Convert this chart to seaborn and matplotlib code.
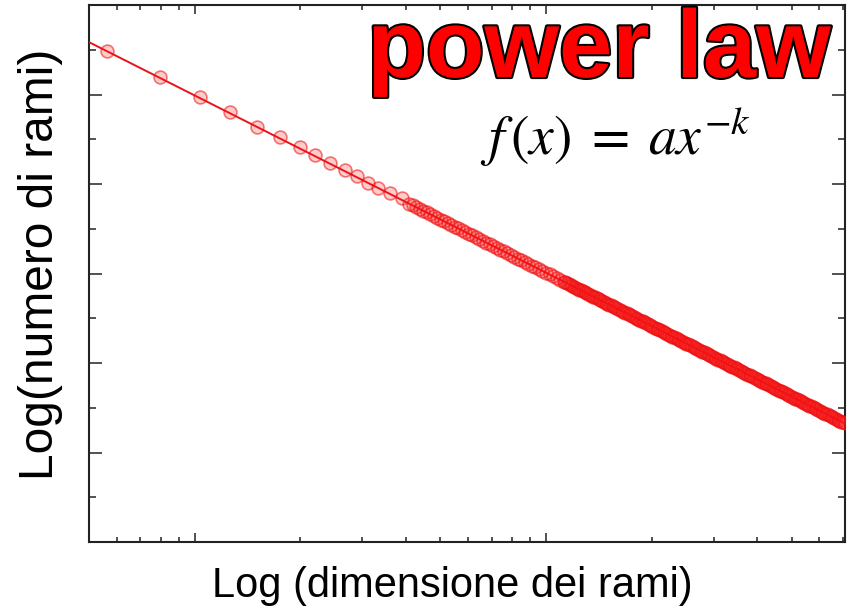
import numpy as np
import pandas as pd
import matplotlib
matplotlib.use("Agg")
import matplotlib.pyplot as plt
import matplotlib.patheffects as pe
from matplotlib.ticker import FixedLocator, NullFormatter
import seaborn as sns

# log10 of branch size and log10 of branch count, one entry per measured bin
log_dimensione = [
    0.749, 0.900, 1.014, 1.100, 1.177, 1.242, 1.299, 1.342, 1.385, 1.427,
    1.462, 1.493, 1.521, 1.556, 1.590,
    1.61, 1.62, 1.63, 1.64, 1.65, 1.66, 1.67, 1.68, 1.69, 1.70,
    1.71, 1.72, 1.73, 1.74, 1.75, 1.76, 1.77, 1.78, 1.79, 1.80,
    1.81, 1.82, 1.83, 1.84, 1.85, 1.86, 1.87, 1.88, 1.89, 1.90,
    1.91, 1.92, 1.93, 1.94, 1.95, 1.96, 1.97, 1.98, 1.99, 2.00,
    2.01, 2.02, 2.03, 2.04, 2.05,
    2.055, 2.060, 2.065, 2.070, 2.075, 2.080, 2.085, 2.090, 2.095, 2.100,
    2.105, 2.110, 2.115, 2.120, 2.125, 2.130, 2.135, 2.140, 2.145, 2.150,
    2.155, 2.160, 2.165, 2.170, 2.175, 2.180, 2.185, 2.190, 2.195, 2.200,
    2.205, 2.210, 2.215, 2.220, 2.225, 2.230, 2.235, 2.240, 2.245, 2.250,
    2.255, 2.260, 2.265, 2.270, 2.275, 2.280, 2.285, 2.290, 2.295, 2.300,
    2.305, 2.310, 2.315, 2.320, 2.325, 2.330, 2.335, 2.340, 2.345, 2.350,
    2.355, 2.360, 2.365, 2.370, 2.375, 2.380, 2.385, 2.390, 2.395, 2.400,
    2.405, 2.410, 2.415, 2.420, 2.425, 2.430, 2.435, 2.440, 2.445, 2.450,
    2.455, 2.460, 2.465, 2.470, 2.475, 2.480, 2.485, 2.490, 2.495, 2.500,
    2.505, 2.510, 2.515, 2.520, 2.525, 2.530, 2.535, 2.540, 2.545, 2.550,
    2.555, 2.560, 2.565, 2.570, 2.575, 2.580, 2.585, 2.590, 2.595, 2.600,
    2.605, 2.610, 2.615, 2.620, 2.625, 2.630, 2.635, 2.640, 2.645, 2.650,
    2.655, 2.660, 2.665, 2.670, 2.675, 2.680, 2.685, 2.690, 2.695, 2.700,
    2.705, 2.710, 2.715, 2.720, 2.725, 2.730, 2.735, 2.740, 2.745, 2.750,
    2.755, 2.760, 2.765, 2.770, 2.775, 2.780, 2.785, 2.790, 2.795, 2.800,
    2.805, 2.810, 2.815, 2.820, 2.825, 2.830, 2.835, 2.840, 2.845, 2.850,
]
log_numero = [
    5.486, 5.196, 4.972, 4.804, 4.637, 4.525, 4.413, 4.324, 4.235, 4.156,
    4.089, 4.011, 3.955, 3.899, 3.844,
    3.781, 3.761, 3.741, 3.722, 3.702, 3.682, 3.662, 3.642, 3.623, 3.603,
    3.583, 3.563, 3.543, 3.524, 3.504, 3.484, 3.464, 3.444, 3.425, 3.405,
    3.385, 3.365, 3.345, 3.326, 3.306, 3.286, 3.266, 3.246, 3.227, 3.207,
    3.187, 3.167, 3.147, 3.128, 3.108, 3.088, 3.068, 3.048, 3.029, 3.009,
    2.989, 2.969, 2.949, 2.930, 2.910,
    2.900, 2.890, 2.880, 2.870, 2.860, 2.851, 2.841, 2.831, 2.821, 2.811,
    2.801, 2.791, 2.781, 2.771, 2.761, 2.752, 2.742, 2.732, 2.722, 2.712,
    2.702, 2.692, 2.682, 2.672, 2.662, 2.653, 2.643, 2.633, 2.623, 2.613,
    2.603, 2.593, 2.583, 2.573, 2.563, 2.554, 2.544, 2.534, 2.524, 2.514,
    2.504, 2.494, 2.484, 2.474, 2.464, 2.455, 2.445, 2.435, 2.425, 2.415,
    2.405, 2.395, 2.385, 2.375, 2.365, 2.356, 2.346, 2.336, 2.326, 2.316,
    2.306, 2.296, 2.286, 2.276, 2.266, 2.257, 2.247, 2.237, 2.227, 2.217,
    2.207, 2.197, 2.187, 2.177, 2.167, 2.158, 2.148, 2.138, 2.128, 2.118,
    2.108, 2.098, 2.088, 2.078, 2.068, 2.059, 2.049, 2.039, 2.029, 2.019,
    2.009, 1.999, 1.989, 1.979, 1.969, 1.960, 1.950, 1.940, 1.930, 1.920,
    1.910, 1.900, 1.890, 1.880, 1.870, 1.861, 1.851, 1.841, 1.831, 1.821,
    1.811, 1.801, 1.791, 1.781, 1.771, 1.762, 1.752, 1.742, 1.732, 1.722,
    1.712, 1.702, 1.692, 1.682, 1.672, 1.663, 1.653, 1.643, 1.633, 1.623,
    1.613, 1.603, 1.593, 1.583, 1.573, 1.564, 1.554, 1.544, 1.534, 1.524,
    1.514, 1.504, 1.494, 1.484, 1.474, 1.465, 1.455, 1.445, 1.435, 1.425,
    1.415, 1.405, 1.395, 1.385, 1.375, 1.366, 1.356, 1.346, 1.336, 1.326,
]

# fitted power law f(x) = a * x^-k
fit_log_a = 6.969
fit_k = 1.98

x_limits = (5.0, 710.0)
y_limits = (1.0, 1e6)
x_major = [10, 100]
x_minor = [6, 7, 8, 9, 20, 30, 40, 50, 60, 70, 80, 90, 200, 300, 400, 500, 600, 700]
y_major = [1e1, 1e2, 1e3, 1e4, 1e5]
y_minor = [10 ** 0.5, 10 ** 1.5, 10 ** 2.5, 10 ** 3.5, 10 ** 4.5, 10 ** 5.5]

sns.set_theme(style="ticks")
plt.rcParams["font.family"] = ["Liberation Sans", "DejaVu Sans"]
plt.rcParams["mathtext.fontset"] = "stix"

W, H = 852, 609
fig = plt.figure(figsize=(W / 100, H / 100), dpi=100)
ax = fig.add_axes([89 / W, 67 / H, 756 / W, 537 / H])
ax.set_xscale("log")
ax.set_yscale("log")

df = pd.DataFrame({
    "dimensione": 10 ** np.array(log_dimensione),
    "numero": 10 ** np.array(log_numero),
})

# fitted line across the size range
fit_x = np.geomspace(x_limits[0], df["dimensione"].max(), 60)
fit_df = pd.DataFrame({"dimensione": fit_x, "numero": 10 ** fit_log_a * fit_x ** (-fit_k)})
sns.lineplot(data=fit_df, x="dimensione", y="numero", ax=ax, color="#e8141a",
             linewidth=1.4, zorder=3)

sns.scatterplot(data=df, x="dimensione", y="numero", ax=ax, marker="o", s=85,
                color="red", linewidth=1.2, zorder=4)
pts = ax.collections[-1]
pts.set_facecolor((1.0, 0.1, 0.1, 0.22))
pts.set_edgecolor((0.93, 0.05, 0.05, 0.55))

ax.set_xlim(*x_limits)
ax.set_ylim(*y_limits)
ax.set_xlabel("")
ax.set_ylabel("")

ax.xaxis.set_major_locator(FixedLocator(x_major))
ax.xaxis.set_minor_locator(FixedLocator(x_minor))
ax.yaxis.set_major_locator(FixedLocator(y_major))
ax.yaxis.set_minor_locator(FixedLocator(y_minor))
for axis in (ax.xaxis, ax.yaxis):
    axis.set_major_formatter(NullFormatter())
    axis.set_minor_formatter(NullFormatter())

tick_col = "#333333"
ax.tick_params(axis="x", which="major", direction="in", length=6.5, width=1.2,
               color=tick_col, top=True, bottom=True)
ax.tick_params(axis="x", which="minor", direction="in", length=3.6, width=1.2,
               color=tick_col, top=True, bottom=True)
ax.tick_params(axis="y", which="major", direction="in", length=9.4, width=1.2,
               color=tick_col, left=True, right=True)
ax.tick_params(axis="y", which="minor", direction="in", length=5.0, width=1.2,
               color=tick_col, left=True, right=True)
for sp in ax.spines.values():
    sp.set_visible(True)
    sp.set_color("#222222")
    sp.set_linewidth(1.5)

# axis titles
fig.text(452 / W, 1 - 597 / H, "Log (dimensione dei rami)", ha="center",
         va="baseline", fontsize=30, color="black")
fig.text(41 / W, 1 - 264 / H, "Log(numero di rami)", ha="center", va="center",
         rotation=90, fontsize=34.5, color="black")

# headline and formula
fig.text(831 / W, 1 - 77 / H, "power law", ha="right", va="baseline",
         fontsize=69, fontweight="bold", color="#ff0000",
         path_effects=[pe.withStroke(linewidth=3, foreground="black")])
fig.text(615 / W, 1 - 155 / H, r"$f\,(x)\;=\;a x^{-k}$", ha="center", va="baseline",
         fontsize=40, color="black")

fig.savefig("out.png", dpi=100)
